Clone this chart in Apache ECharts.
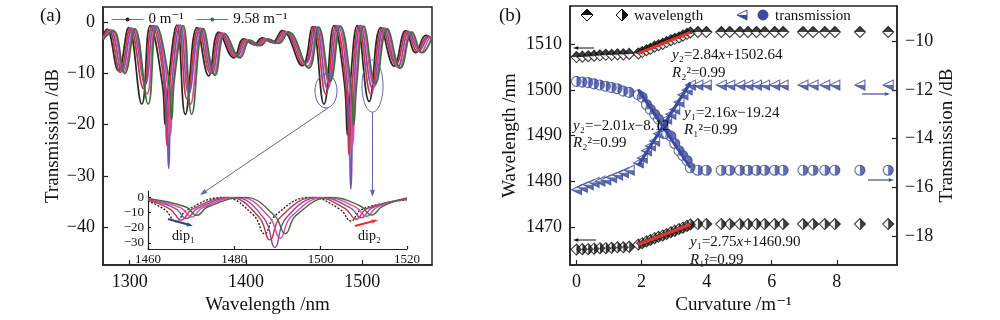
<!DOCTYPE html>
<html>
<head>
<meta charset="utf-8">
<script src="https://cdn.jsdelivr.net/npm/echarts@6/dist/echarts.min.js"></script>
<style>
  html, body { margin: 0; padding: 0; background: #fff; }
  #chart { width: 1000px; height: 320px; }
</style>
</head>
<body>
<div id="chart"></div>
<script>
  // ---- (a) spectra, [wavelength nm, transmission dB] ----
  var spec0 = [[1277,-2.6],[1280.3,-1.4],[1290.3,-9.5],[1299,-1.1],[1310.4,-16],[1317.6,-0.7],[1328,-12],[1330.5,-20],[1333,-12],[1340.6,-0.6],[1347.8,-18],[1357.8,-1.1],[1367.9,-10.5],[1376.6,-2],[1389.5,-7],[1398.1,-3.3],[1407,-4.4],[1413.9,-3.1],[1422.5,-4],[1431.1,-1.7],[1448.4,-8.5],[1457,-0.9],[1467.1,-16],[1475.7,-0.7],[1484.7,-12],[1487.2,-22],[1489.7,-12],[1495.8,-0.7],[1505.9,-15.5],[1515.9,-1.1],[1527.4,-8.6],[1537.4,-1.7],[1546,-6],[1554.7,-2.6],[1560,-3.2]];
  var spec1 = [[1277,-2.9],[1281.8,-1.5],[1291.8,-9.8],[1300.5,-1.2],[1311.9,-13],[1319.1,-0.7],[1329.5,-12],[1332,-24],[1334.5,-12],[1342.1,-0.6],[1349.3,-15],[1359.3,-1.2],[1369.4,-10],[1378.1,-2.1],[1391,-6.8],[1399.6,-3.4],[1408.5,-4.5],[1415.4,-3.2],[1424,-4.1],[1432.6,-1.8],[1449.9,-8.3],[1458.5,-0.9],[1468.6,-14],[1477.2,-0.7],[1486.2,-13],[1488.7,-26],[1491.2,-13],[1497.3,-0.7],[1507.4,-14],[1517.4,-1.2],[1528.9,-8.3],[1538.9,-1.8],[1547.5,-5.8],[1556.2,-2.8],[1560,-3]];
  var spec2 = [[1277,-3.1],[1283.3,-1.6],[1293.3,-9.6],[1302,-1.2],[1313.4,-12],[1320.6,-0.7],[1331,-13],[1333.5,-28.5],[1336,-13],[1343.6,-0.6],[1350.8,-14],[1360.8,-1.2],[1370.9,-10],[1379.6,-2.2],[1392.5,-6.6],[1401.1,-3.5],[1410,-4.6],[1416.9,-3.3],[1425.5,-4.2],[1434.1,-1.9],[1451.4,-8],[1460,-0.9],[1470.1,-13],[1478.7,-0.7],[1487.7,-14],[1490.2,-32.5],[1492.7,-14],[1498.8,-0.7],[1508.9,-13],[1518.9,-1.2],[1530.4,-8.8],[1540.4,-1.9],[1549,-5.6],[1557.7,-2.9],[1560,-3]];
  var spec3 = [[1277,-3.3],[1284.8,-1.6],[1294.8,-9.8],[1303.5,-1.3],[1314.9,-14],[1322.1,-0.8],[1332.5,-12],[1335,-22],[1337.5,-12],[1345.1,-0.7],[1352.3,-16],[1362.3,-1.3],[1372.4,-10.2],[1381.1,-2.2],[1394,-6.8],[1402.6,-3.5],[1411.5,-4.5],[1418.4,-3.3],[1427,-4.1],[1435.6,-1.9],[1452.9,-8.6],[1461.5,-1],[1471.6,-12],[1480.2,-0.8],[1489.2,-13],[1491.7,-24],[1494.2,-13],[1500.3,-0.8],[1510.4,-12.5],[1520.4,-1.3],[1531.9,-9],[1541.9,-2],[1550.5,-6],[1559.2,-3],[1560,-3]];
  var spec4 = [[1277,-3.5],[1285.8,-1.7],[1295.8,-10],[1304.5,-1.3],[1315.9,-16],[1323.1,-0.8],[1333.5,-11],[1336,-19],[1338.5,-11],[1346.1,-0.7],[1353.3,-18],[1363.3,-1.3],[1373.4,-10.4],[1382.1,-2.3],[1395,-7],[1403.6,-3.6],[1412.5,-4.6],[1419.4,-3.4],[1428,-4.2],[1436.6,-2],[1453.9,-9],[1462.5,-1],[1472.6,-11.5],[1481.2,-0.8],[1490.2,-12],[1492.7,-20],[1495.2,-12],[1501.3,-0.8],[1511.4,-12],[1521.4,-1.3],[1532.9,-9],[1542.9,-2],[1551.5,-6],[1560,-3]];

  // inset, 1460-1520 nm
  var inset0 = [[1460,-2.5],[1464,-8.5],[1466.5,-16],[1469,-8.5],[1477.5,-0.2],[1484.5,-12],[1487,-24],[1489.5,-12],[1497.5,-0.2],[1504.5,-8],[1507,-15.7],[1509.5,-8],[1520,-1.8]];
  var inset1 = [[1460,-2],[1465.2,-8],[1467.7,-15],[1470.2,-8],[1478.7,-0.2],[1485.7,-13],[1488.2,-28],[1490.7,-13],[1498.7,-0.2],[1505.7,-7.5],[1508.2,-14.5],[1510.7,-7.5],[1520,-1.4]];
  var inset2 = [[1460,-1.6],[1466.4,-7.5],[1468.9,-14],[1471.4,-7.5],[1479.9,-0.2],[1486.9,-14],[1489.4,-33],[1491.9,-14],[1499.9,-0.2],[1506.9,-7],[1509.4,-13.5],[1511.9,-7],[1520,-1.1]];
  var inset3 = [[1460,-1.2],[1467.6,-7],[1470.1,-13],[1472.6,-7],[1481.1,-0.2],[1488.1,-13],[1490.6,-27],[1493.1,-13],[1501.1,-0.2],[1508.1,-6.5],[1510.6,-12.5],[1513.1,-6.5],[1520,-0.8]];
  var inset4 = [[1460,-0.9],[1468.8,-6.5],[1471.3,-12],[1473.8,-6.5],[1482.3,-0.2],[1489.3,-12],[1491.8,-24],[1494.3,-12],[1502.3,-0.2],[1509.3,-6],[1511.8,-11.8],[1514.3,-6],[1520,-0.5]];

  var specNames = ['0 m\u207B\u00B9', '1.9 m\u207B\u00B9', '2.7 m\u207B\u00B9', '3.5 m\u207B\u00B9', '9.58 m\u207B\u00B9'];
  var specColors = ['#262626', '#d3303c', '#7d4fb4', '#e2489c', '#3f6f3a'];

  // ---- (b) dip wavelength / transmission vs curvature ----
  var curvature = [0,0.18,0.36,0.54,0.72,0.9,1.08,1.26,1.44,1.62,
    1.9,2.02,2.15,2.27,2.4,2.52,2.65,2.77,2.9,3.02,3.15,3.27,3.4,3.5,
    3.73,3.99,4.45,4.71,5.02,5.27,5.53,5.78,6.09,6.35,6.96,7.27,7.63,7.94,8.71,9.58];
  var wlDip2 = [1507.2,1507.3,1507.4,1507.5,1507.6,1507.7,1507.7,1507.8,1507.8,1507.9,
    1508.0,1508.3,1508.7,1509.0,1509.5,1509.8,1510.1,1510.5,1510.9,1511.2,1511.5,1511.9,1512.3,1512.6,
    1512.7,1512.7,1512.7,1512.7,1512.7,1512.7,1512.7,1512.7,1512.7,1512.7,1512.7,1512.7,1512.7,1512.7,1512.7,1512.7];
  var wlDip1 = [1465.0,1465.1,1465.1,1465.2,1465.3,1465.3,1465.4,1465.5,1465.5,1465.6,
    1466.1,1466.4,1466.8,1467.1,1467.5,1467.8,1468.1,1468.4,1468.8,1469.1,1469.5,1469.8,1470.2,1470.5,
    1470.6,1470.6,1470.6,1470.6,1470.6,1470.6,1470.6,1470.6,1470.6,1470.6,1470.6,1470.6,1470.6,1470.6,1470.6,1470.6];
  var trDip1 = [-16.1,-16.0,-15.9,-15.8,-15.75,-15.7,-15.6,-15.5,-15.4,-15.3,
    -15.0,-14.8,-14.5,-14.3,-14.1,-13.8,-13.5,-13.2,-13.0,-12.8,-12.5,-12.2,-12.0,-11.8,
    -11.8,-11.8,-11.8,-11.8,-11.8,-11.8,-11.8,-11.8,-11.8,-11.8,-11.8,-11.8,-11.8,-11.8,-11.8,-11.8];
  var trDip2 = [-11.65,-11.68,-11.7,-11.75,-11.8,-11.85,-11.9,-11.95,-12.05,-12.1,
    -12.2,-12.3,-12.6,-12.8,-13.0,-13.2,-13.5,-13.8,-13.9,-14.2,-14.5,-14.7,-14.9,-15.2,
    -15.3,-15.3,-15.3,-15.3,-15.3,-15.3,-15.3,-15.3,-15.3,-15.3,-15.3,-15.3,-15.3,-15.3,-15.3,-15.3];

  // linear fits (end points)
  var fitWl2 = [[1.9,1508.0],[3.5,1512.6]];
  var fitWl1 = [[1.9,1466.1],[3.5,1470.5]];
  var fitTr1 = [[1.9,-15.1],[3.5,-11.7]];
  var fitTr2 = [[1.9,-12.0],[3.5,-15.2]];

  // tick labels
  var ticksA_x = [1300, 1400, 1500];
  var ticksA_y = [0, -10, -20, -30, -40];
  var ticksIn_x = [1460, 1480, 1500, 1520];
  var ticksIn_y = [0, -10, -20, -30];
  var ticksB_x = [0, 2, 4, 6, 8];
  var ticksB_yl = [1470, 1480, 1490, 1500, 1510];
  var ticksB_yr = [-18, -16, -14, -12, -10];

  var FONT = '"Liberation Serif", "DejaVu Serif", serif';
  var BLUE = '#3b4a9e';
  var RED = '#e8332b';

  function minus(v) { return String(v).replace('-', '\u2212'); }

  function pairs(ys) {
    return curvature.map(function(c, i) { return [c, ys[i]]; });
  }

  function axis(opt, ticks, size, tickLen) {
    var base = {
      type: 'value',
      scale: true,
      splitLine: { show: false },
      axisLine: { show: true, onZero: false, lineStyle: { color: '#222', width: size > 14 ? 1.5 : 1.2 } },
      axisTick: { show: true, inside: true, length: tickLen || 5, customValues: ticks, lineStyle: { color: '#222', width: 1.2 } },
      axisLabel: { customValues: ticks, color: '#111', fontFamily: FONT, fontSize: size, formatter: minus, margin: size > 14 ? 8 : 4 },
      nameTextStyle: { color: '#111', fontFamily: FONT, fontSize: 19 }
    };
    for (var k in opt) base[k] = opt[k];
    return base;
  }

  function arrow(x1, y1, x2, y2, color, w, h) {
    var a = Math.atan2(y2 - y1, x2 - x1);
    var bx = x2 - h * 1.8 * Math.cos(a), by = y2 - h * 1.8 * Math.sin(a);
    var s = h * 0.6;
    return [
      { type: 'line', z: 100, shape: { x1: x1, y1: y1, x2: bx, y2: by }, style: { stroke: color, lineWidth: w } },
      { type: 'polygon', z: 100, shape: { points: [[x2, y2], [bx + s * Math.sin(a), by - s * Math.cos(a)], [bx - s * Math.sin(a), by + s * Math.cos(a)]] }, style: { fill: color } }
    ];
  }

  function label(x, y, text, size) {
    return {
      type: 'text', z: 100, x: x, y: y,
      style: {
        text: text, fill: '#111', font: size + 'px ' + FONT, verticalAlign: 'middle',
        rich: { i: { fontStyle: 'italic', fontFamily: FONT, fontSize: size } }
      }
    };
  }

  var series = [];
  // (a) main spectra
  [spec0, spec1, spec2, spec3, spec4].forEach(function(d, i) {
    series.push({
      name: specNames[i], type: 'line', xAxisIndex: 0, yAxisIndex: 0, data: d,
      smooth: 0.45, showSymbol: false, symbol: 'circle', symbolSize: 4,
      lineStyle: { width: 1.7, color: specColors[i] }, itemStyle: { color: specColors[i] }
    });
  });
  // (a) inset spectra
  [inset0, inset1, inset2, inset3, inset4].forEach(function(d, i) {
    series.push({
      name: 'inset' + i, type: 'line', xAxisIndex: 1, yAxisIndex: 1, data: d,
      smooth: 0.45, showSymbol: false,
      lineStyle: { width: 1.4, color: specColors[i], type: i === 0 ? [2, 1.5] : 'solid' }
    });
  });

  // (b) symbols: base shapes with open fill, plus half-filled overlays
  function scat(name, data, yIdx, symbol, size, stroke, opts) {
    var s = {
      name: name, type: 'scatter', xAxisIndex: 2, yAxisIndex: yIdx, data: data,
      symbol: symbol, symbolSize: size,
      itemStyle: { color: '#fff', borderColor: stroke, borderWidth: 1.1 }
    };
    for (var k in opts) s[k] = opts[k];
    return s;
  }
  series.push(scat('wl2', pairs(wlDip2), 2, 'diamond', 11, '#111'));
  series.push(scat('wl2h', pairs(wlDip2), 2, 'path://M0,10L10,0L20,10Z', [11, 5.5], '#111',
    { symbolOffset: [0, -2.75], itemStyle: { color: '#111' } }));
  series.push(scat('wl1', pairs(wlDip1), 2, 'diamond', 11, '#111'));
  series.push(scat('wl1h', pairs(wlDip1), 2, 'path://M0,0L10,10L0,20Z', [5.5, 11], '#111',
    { symbolOffset: [2.75, 0], itemStyle: { color: '#111' } }));
  series.push(scat('tr1', pairs(trDip1), 3, 'path://M0,10L20,0L20,20Z', 10, BLUE));
  series.push(scat('tr1h', pairs(trDip1), 3, 'path://M0,10L20,10L20,20Z', [10, 5], BLUE,
    { symbolOffset: [0, 2.5], itemStyle: { color: BLUE } }));
  series.push(scat('tr2', pairs(trDip2), 3, 'circle', 10, BLUE));
  series.push(scat('tr2h', pairs(trDip2), 3, 'path://M0,0A10,10 0 0 1 0,20Z', [5, 10], BLUE,
    { symbolOffset: [2.5, 0], itemStyle: { color: BLUE } }));

  // fits
  [[fitWl2, 2, RED], [fitWl1, 2, RED], [fitTr1, 3, BLUE], [fitTr2, 3, BLUE]].forEach(function(f, i) {
    series.push({
      name: 'fit' + i, type: 'line', xAxisIndex: 2, yAxisIndex: f[1], data: f[0],
      showSymbol: false, z: 5, lineStyle: { width: 3, color: f[2] }
    });
  });

  var graphic = [
    label(40, 16, '(a)', 19),
    label(499, 16, '(b)', 19),
    { type: 'ellipse', z: 100, shape: { cx: 326, cy: 91, rx: 11, ry: 17 }, style: { fill: 'none', stroke: '#5a66a6', lineWidth: 1 } },
    { type: 'ellipse', z: 100, shape: { cx: 372.5, cy: 86, rx: 10.5, ry: 26 }, style: { fill: 'none', stroke: '#5a66a6', lineWidth: 1 } },
    label(172, 236, 'dip\u2081', 14),
    label(358, 236, 'dip\u2082', 14),
    label(672, 55, '{i|y}\u2082=2.84{i|x}+1502.64', 15),
    label(672, 73, '{i|R}\u2082\u00B2=0.99', 15),
    label(684, 113, '{i|y}\u2081=2.16{i|x}\u221219.24', 15),
    label(684, 130, '{i|R}\u2081\u00B2=0.99', 15),
    label(573, 126, '{i|y}\u2082=\u22122.01{i|x}\u22128.12', 15),
    label(573, 143, '{i|R}\u2082\u00B2=0.99', 15),
    label(690, 242, '{i|y}\u2081=2.75{i|x}+1460.90', 15),
    label(690, 260, '{i|R}\u2081\u00B2=0.99', 15),
    // (b) legend
    { type: 'polygon', z: 100, shape: { points: [[581, 15], [587, 9], [593, 15], [587, 21]] }, style: { fill: '#fff', stroke: '#111', lineWidth: 1 } },
    { type: 'polygon', z: 100, shape: { points: [[581, 15], [587, 9], [593, 15]] }, style: { fill: '#111' } },
    { type: 'polygon', z: 100, shape: { points: [[616, 15], [622, 9], [628, 15], [622, 21]] }, style: { fill: '#fff', stroke: '#111', lineWidth: 1 } },
    { type: 'polygon', z: 100, shape: { points: [[622, 9], [628, 15], [622, 21]] }, style: { fill: '#111' } },
    label(634, 16, 'wavelength', 15),
    { type: 'polygon', z: 100, shape: { points: [[737, 15], [747, 10], [747, 20]] }, style: { fill: '#fff', stroke: BLUE, lineWidth: 1 } },
    { type: 'polygon', z: 100, shape: { points: [[737, 15], [747, 15], [747, 20]] }, style: { fill: BLUE } },
    { type: 'circle', z: 100, shape: { cx: 763, cy: 15, r: 5 }, style: { fill: BLUE, stroke: BLUE } },
    label(775, 16, 'transmission', 15)
  ];
  graphic = graphic
    .concat(arrow(328, 108, 200, 195, '#5a66a6', 1, 4))
    .concat(arrow(372.5, 112, 372.5, 197, '#5a66a6', 1, 4))
    .concat(arrow(168, 219, 193, 226, '#2e3f8f', 2, 3.5))
    .concat(arrow(355, 226, 378, 220, RED, 2, 3.5))
    .concat(arrow(594, 48, 573, 48, '#111', 1, 3))
    .concat(arrow(596, 240, 573, 240, '#111', 1, 3))
    .concat(arrow(862, 94, 890, 94, BLUE, 1.2, 3))
    .concat(arrow(868, 180, 894, 180, BLUE, 1.2, 3));

  var chart = echarts.init(document.getElementById('chart'));
  chart.setOption({
    animation: false,
    backgroundColor: '#fff',
    textStyle: { fontFamily: FONT },
    grid: [
      { left: 103, top: 7, width: 329, height: 263, show: true, borderColor: '#222', borderWidth: 1.5 },
      { left: 148, top: 191, width: 259, height: 58 },
      { left: 570, top: 6, width: 327, height: 264, show: true, borderColor: '#222', borderWidth: 1.5 }
    ],
    legend: {
      left: 106, top: 7, itemWidth: 32, itemHeight: 5, itemGap: 12,
      textStyle: { fontFamily: FONT, fontSize: 15, color: '#111' },
      data: [
        { name: specNames[0], lineStyle: { color: '#777', width: 1 }, itemStyle: { color: '#222' } },
        { name: specNames[4], lineStyle: { color: '#777', width: 1 }, itemStyle: { color: '#3f6f3a' } }
      ]
    },
    xAxis: [
      axis({ gridIndex: 0, min: 1277, max: 1560, name: 'Wavelength /nm', nameLocation: 'middle', nameGap: 28 }, ticksA_x, 18),
      axis({ gridIndex: 1, min: 1460, max: 1520 }, ticksIn_x, 13, 3),
      axis({ gridIndex: 2, min: -0.2, max: 9.85, name: 'Curvature /m\u207B\u00B9', nameLocation: 'middle', nameGap: 28 }, ticksB_x, 18)
    ],
    yAxis: [
      axis({ gridIndex: 0, min: -47.3, max: 2.9, name: 'Transmission /dB', nameLocation: 'middle', nameGap: 32, nameRotate: 90 }, ticksA_y, 18),
      axis({ gridIndex: 1, min: -34, max: 4 }, ticksIn_y, 13, 3),
      axis({ gridIndex: 2, min: 1461.6, max: 1518.4, name: 'Wavelength /nm', nameLocation: 'middle', nameGap: 50, nameRotate: 90 }, ticksB_yl, 18),
      axis({ gridIndex: 2, position: 'right', min: -19.2, max: -8.55, name: 'Transmission /dB', nameLocation: 'middle', nameGap: 40, nameRotate: 90 }, ticksB_yr, 18)
    ],
    series: series,
    graphic: graphic
  });
</script>
</body>
</html>
